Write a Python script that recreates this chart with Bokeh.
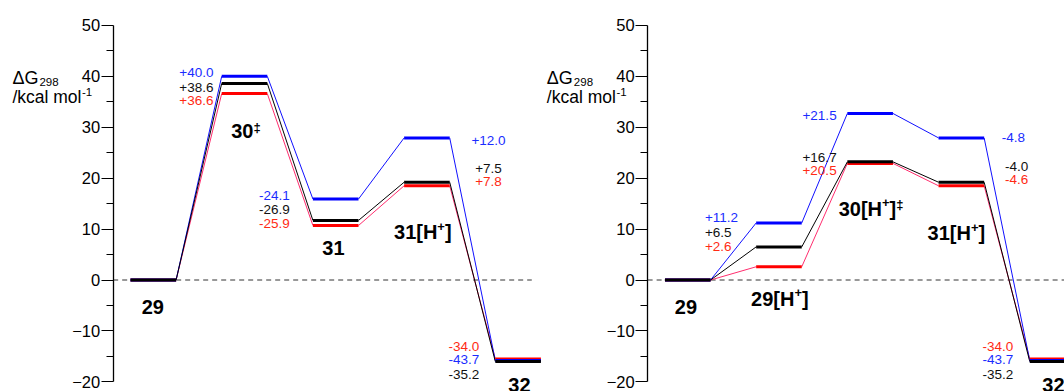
from bokeh.plotting import figure
from bokeh.models import LinearAxis, Range1d, FixedTicker
from bokeh.embed import file_html
from bokeh.resources import INLINE
from bokeh.core.properties import value

# ---------------- data ----------------
species_left = ["29", "30^‡", "31", "31[H^+]", "32"]
species_right = ["29", "29[H^+]", "30[H^+]^‡", "31[H^+]", "32"]

blue_left = [0.0, 40.0, 15.9, 27.9, -15.8]
black_left = [0.0, 38.6, 11.7, 19.2, -16.0]
red_left = [0.0, 36.6, 10.7, 18.5, -15.5]

blue_right = [0.0, 11.2, 32.7, 27.9, -15.8]
black_right = [0.0, 6.5, 23.2, 19.2, -16.0]
red_right = [0.0, 2.6, 22.9, 18.5, -15.5]

blue_labels_left = ["+40.0", "-24.1", "+12.0", "-43.7"]
black_labels_left = ["+38.6", "-26.9", "+7.5", "-35.2"]
red_labels_left = ["+36.6", "-25.9", "+7.8", "-34.0"]

blue_labels_right = ["+11.2", "+21.5", "-4.8", "-43.7"]
black_labels_right = ["+6.5", "+16.7", "-4.0", "-35.2"]
red_labels_right = ["+2.6", "+20.5", "-4.6", "-34.0"]

y_ticks = [-20, -10, 0, 10, 20, 30, 40, 50]
y_minor = [-15, -5, 5, 15, 25, 35, 45]

# ---------------- layout / style ----------------
FONT = "Liberation Sans"
BAR_COL = {"blue": "#0000ff", "black": "#000000", "red": "#ff0000"}
LINK_COL = {"blue": "#1010ff", "black": "#000000", "red": "#ff2d6e"}
TEXT_COL = {"blue": "#1a2cff", "black": "#111111", "red": "#ff2a14"}

LAB_POS_LEFT = [
    {"blue": (1.82, 40.74, 0, "right"), "black": (1.82, 40.74, 14.5, "right"), "red": (1.82, 40.74, 28, "right")},
    {"blue": (3.49, 16.59, 0, "right"), "black": (3.49, 16.59, 14, "right"), "red": (3.49, 16.59, 28, "right")},
    {"blue": (7.85, 27.39, 0, "center"), "black": (7.85, 21.95, 0, "center"), "red": (7.85, 21.95, 13.3, "center")},
    {"red": (7.65, -13.06, 0, "right"), "blue": (7.65, -13.06, 13.3, "right"), "black": (7.65, -13.06, 28, "right")},
]
LAB_POS_RIGHT = [
    {"blue": (0.877, 12.21, 0, "left"), "black": (0.877, 12.21, 14.4, "left"), "red": (0.877, 12.21, 28.4, "left")},
    {"blue": (3.765, 32.3, 0, "right"), "black": (3.765, 23.99, 0, "right"), "red": (3.765, 23.99, 12.7, "right")},
    {"blue": (7.64, 27.92, 0, "center"), "black": (7.71, 22.34, 0, "center"), "red": (7.71, 22.34, 13.6, "center")},
    {"red": (7.64, -13.06, 0, "right"), "blue": (7.64, -13.06, 13.3, "right"), "black": (7.64, -13.06, 28, "right")},
]
SPEC_POS_LEFT = [(0.49, -5.34), (2.53, 29.16), (4.45, 6.19), (6.41, 9.39), (8.53, -20.7)]
SPEC_POS_RIGHT = [(0.46, -5.34), (2.52, -3.69), (4.52, 13.98), (6.39, 9.19), (8.52, -20.7)]

panels = [
    dict(off=0.0, species=species_left, pos=SPEC_POS_LEFT, labpos=LAB_POS_LEFT,
         vals={"red": red_left, "blue": blue_left, "black": black_left},
         labs={"blue": blue_labels_left, "black": black_labels_left, "red": red_labels_left}),
    dict(off=11.72, species=species_right, pos=SPEC_POS_RIGHT, labpos=LAB_POS_RIGHT,
         vals={"red": red_right, "blue": blue_right, "black": black_right},
         labs={"blue": blue_labels_right, "black": black_labels_right, "red": red_labels_right}),
]

WB = {"[": 0.333, "]": 0.333, "H": 0.722, "+": 0.584, "‡": 0.556}
WR = {"Δ": 0.667, "G": 0.778, "/": 0.278, "k": 0.5, "c": 0.5, "a": 0.556, "l": 0.222,
      " ": 0.278, "m": 0.833, "o": 0.556, "-": 0.333}


def width(s, size, bold):
    t = WB if bold else WR
    return sum(t.get(c, 0.556) for c in s) * size


def parse_runs(label):
    runs, buf, i = [], "", 0
    while i < len(label):
        if label[i] == "^":
            if buf:
                runs.append((buf, False))
                buf = ""
            runs.append((label[i + 1], True))
            i += 2
        else:
            buf += label[i]
            i += 1
    if buf:
        runs.append((buf, False))
    return runs


p = figure(width=1064, height=391, x_range=Range1d(-2.851, 20.482), y_range=Range1d(-21.89, 54.88),
           output_backend="svg", toolbar_location=None, x_axis_type=None, y_axis_type=None,
           min_border=0, min_border_left=0, min_border_right=0, min_border_top=0, min_border_bottom=0)
p.outline_line_color = None
p.title.visible = False
p.background_fill_color = "white"
p.border_fill_color = "white"


def draw_text(x, y, s, size, xoff=0, yoff=0, align="left", bold=False, color="#000"):
    p.text(x=[x], y=[y], text=[s], x_offset=xoff, y_offset=yoff, text_align=align,
           text_baseline="middle", text_font=value(FONT), text_font_size=size,
           text_font_style="bold" if bold else "normal", text_color=color)


for pan in panels:
    off = pan["off"]
    # axis
    ax = LinearAxis(fixed_location=off - 0.38, bounds=(-20, 50),
                    ticker=FixedTicker(ticks=y_ticks, minor_ticks=y_minor))
    ax.axis_line_width = 1.3
    ax.axis_line_color = "black"
    ax.major_tick_in = 0
    ax.major_tick_out = 12
    ax.minor_tick_in = 0
    ax.minor_tick_out = 7
    ax.major_tick_line_width = 1.2
    ax.minor_tick_line_width = 1.2
    ax.major_label_standoff = 1
    ax.major_label_text_font = FONT
    ax.major_label_text_font_size = "16.5px"
    ax.major_label_text_color = "black"
    p.add_layout(ax, "left")

    # zero line
    p.line(x=[off - 0.38, off + 8.8], y=[0, 0], line_dash="5 4", line_color="#333333", line_width=1)

    # connectors and levels
    for col in ["red", "blue", "black"]:
        v = pan["vals"][col]
        n = len(v)
        p.segment(x0=[off + 2 * i + 1 for i in range(n - 1)], y0=v[:-1],
                  x1=[off + 2 * i + 2 for i in range(n - 1)], y1=v[1:],
                  line_color=LINK_COL[col], line_width=1)
    for col in ["red", "blue", "black"]:
        v = pan["vals"][col]
        p.segment(x0=[off + 2 * i for i in range(len(v))], y0=v,
                  x1=[off + 2 * i + 1 for i in range(len(v))], y1=v,
                  line_color=BAR_COL[col], line_width=3, line_cap="butt")

    # value labels
    for k, lp in enumerate(pan["labpos"]):
        for col, (lx, ly, yo, al) in lp.items():
            draw_text(off + lx, ly, pan["labs"][col][k], "13.5px", yoff=yo, align=al, color=TEXT_COL[col])

    # species labels
    for name, (sx, sy) in zip(pan["species"], pan["pos"]):
        runs = parse_runs(name)
        sizes = [(13 if sup else 20) for _, sup in runs]
        total = sum(width(s, sz, True) for (s, _), sz in zip(runs, sizes))
        cur = -total / 2
        for (s, sup), sz in zip(runs, sizes):
            dy = 0
            if sup:
                dy = -6 if s == "+" else -4
            draw_text(off + sx, sy, s, f"{sz}px", xoff=cur, yoff=dy, bold=True)
            cur += width(s, sz, True)

    # axis title
    tx = off - 2.59
    draw_text(tx, 39.6, "ΔG", "18px")
    draw_text(tx, 39.6, "298", "11.5px", xoff=width("ΔG", 18, False) + 1, yoff=3.5)
    draw_text(tx, 35.9, "/kcal mol", "17.5px")
    draw_text(tx, 35.9, "-1", "11.5px", xoff=width("/kcal mol", 17.5, False) + 0.5, yoff=-5)

open("out.html", "w").write(file_html(p, INLINE))
